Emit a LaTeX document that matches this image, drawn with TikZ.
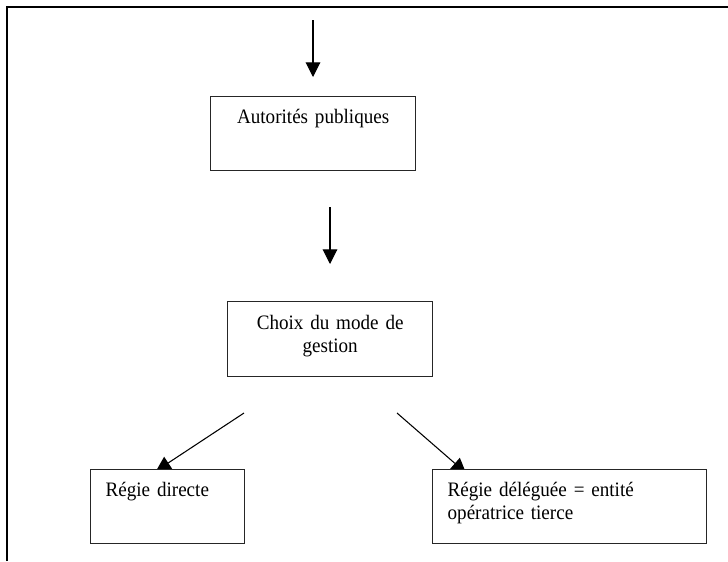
\documentclass[tikz,border=0pt]{standalone}
\usepackage{fontspec}
\setmainfont{Liberation Serif}[FakeStretch=0.93,WordSpace=0.7]
\usetikzlibrary{arrows.meta,backgrounds}

\begin{document}
\begin{tikzpicture}[x=0.75pt, y=-0.75pt,
	box/.style={draw=black!85, line width=1pt, fill=white, anchor=north west, inner xsep=0pt, inner ysep=0pt, text height=20.25pt, text depth=35.25pt, font=\fontsize{15.4}{17}\selectfont},
	arr/.style={-{Triangle[length=11pt,width=11pt]}, line width=0.8pt}]
\useasboundingbox (0,0) rectangle (728,561);
\draw[line width=1.6pt] (7.3,561) -- (7.3,7.3) -- (728,7.3);
\node[box, text width=153.75pt, align=center] (autorites) at (210,96) {Autorités publiques};
\node[box, text width=153.75pt, align=center, text height=21pt] (choix) at (227,301) {Choix du mode de\\gestion};
\node[box, text width=93pt, inner xsep=11.25pt, align=left] (directe) at (90,469) {Régie directe};
\node[box, text width=183pt, inner xsep=11.25pt, align=left] (deleguee) at (432,469) {Régie déléguée = entité\\opératrice tierce};
\coordinate (in-top) at (313,20);
\coordinate (in-tip) at (313,77);
\coordinate (mid-top) at (330,207);
\coordinate (mid-tip) at (330,264);
\coordinate (fork-l) at (244,413);
\coordinate (directe-tip) at (156,471);
\coordinate (fork-r) at (397,413);
\coordinate (deleguee-tip) at (466,473);
\begin{scope}[on background layer]
\path[arr]
(in-top) edge (in-tip)
(mid-top) edge (mid-tip)
(fork-l) edge (directe-tip)
(fork-r) edge (deleguee-tip)
;
\end{scope}
\end{tikzpicture}
\end{document}
